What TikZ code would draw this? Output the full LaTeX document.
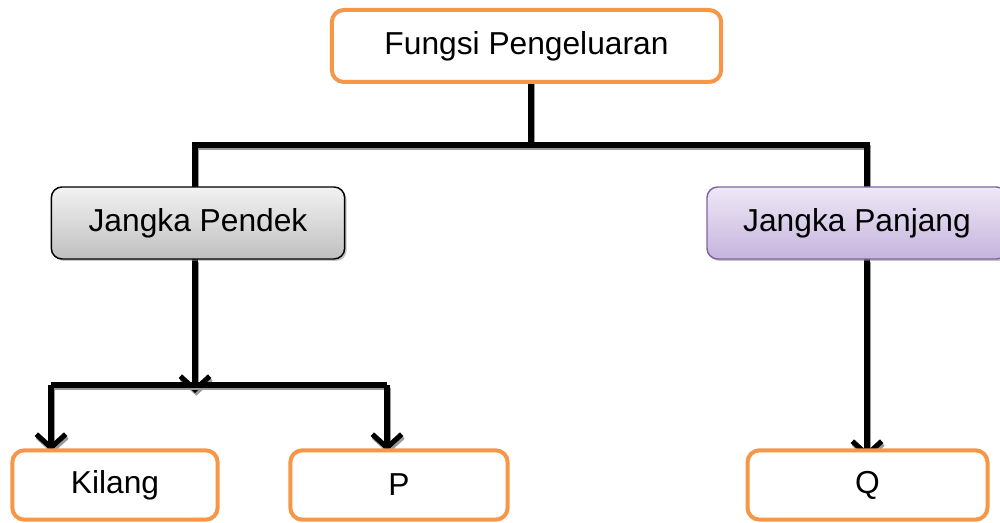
\documentclass[tikz,border=0pt]{standalone}
\usepackage{fontspec}
\setmainfont{Liberation Sans}
\usetikzlibrary{arrows.meta,shadows,backgrounds}
\definecolor{orng}{HTML}{F79646}
\definecolor{purp}{HTML}{8064A2}
\definecolor{purptop}{HTML}{EEE8F6}
\definecolor{purpbot}{HTML}{C5B4DD}
\begin{document}
\begin{tikzpicture}[x=0.75pt,y=-0.75pt,
  every node/.style={font=\fontsize{23.8}{28}\selectfont, inner sep=0pt, outer sep=0pt},
  obox/.style={draw=orng, line width=3pt, rounded corners=9pt, fill=white},
  gbox/.style={draw=black, line width=1.1pt, rounded corners=8pt, top color=white!95!black, bottom color=black!25,
     drop shadow={shadow xshift=1.5pt, shadow yshift=-1.5pt, fill=black!45}},
  pbox/.style={draw=purp, line width=1.1pt, rounded corners=8pt, top color=purptop, bottom color=purpbot,
     drop shadow={shadow xshift=1.5pt, shadow yshift=-1.5pt, fill=black!45}},
  conn/.style={line width=3.8pt, black,
     preaction={draw=black!40, line width=3.8pt, transform canvas={xshift=1pt, yshift=-2pt}}},
  arr/.style={conn, -{Straight Barb[length=10pt,width=22pt]}}
]
\useasboundingbox (0,0) rectangle (1000,523);
\node[obox, minimum width=292pt, minimum height=54pt] (top) at (526.5,46) {Fungsi Pengeluaran};
\node[gbox, minimum width=220pt, minimum height=54pt] (short) at (198,223) {Jangka Pendek};
\node[pbox, minimum width=225pt, minimum height=54pt] (long) at (857,223) {Jangka Panjang};
\node[obox, minimum width=154pt, minimum height=52pt] (kilang) at (115,485) {Kilang};
\node[obox, minimum width=163pt, minimum height=52pt] (p) at (399,485) {P};
\node[obox, minimum width=180pt, minimum height=52pt] (q) at (867.5,485) {Q};
\coordinate (tdown) at (531,78);
\coordinate (hl) at (195,145);
\coordinate (hr) at (867,145);
\coordinate (hm) at (531,145);
\coordinate (sdown) at (195,259);
\coordinate (mid) at (195,393);
\coordinate (bl) at (51,385);
\coordinate (br) at (387,385);
\coordinate (kin) at (51,451);
\coordinate (pin) at (387,451);
\coordinate (ldown) at (867,259);
\coordinate (qin) at (867,458);
\begin{pgfonlayer}{background}
\draw[conn] (tdown) -- (hm);
\draw[conn] (short.north -| hl) -- (hl) -- (hr) -- (long.north -| hr);
\draw[arr] (sdown) -- (mid);
\draw[conn] (bl) -- (br);
\draw[arr] (bl) -- (kin);
\draw[arr] (br) -- (pin);
\draw[arr] (ldown) -- (qin);
\end{pgfonlayer}
\end{tikzpicture}
\end{document}
